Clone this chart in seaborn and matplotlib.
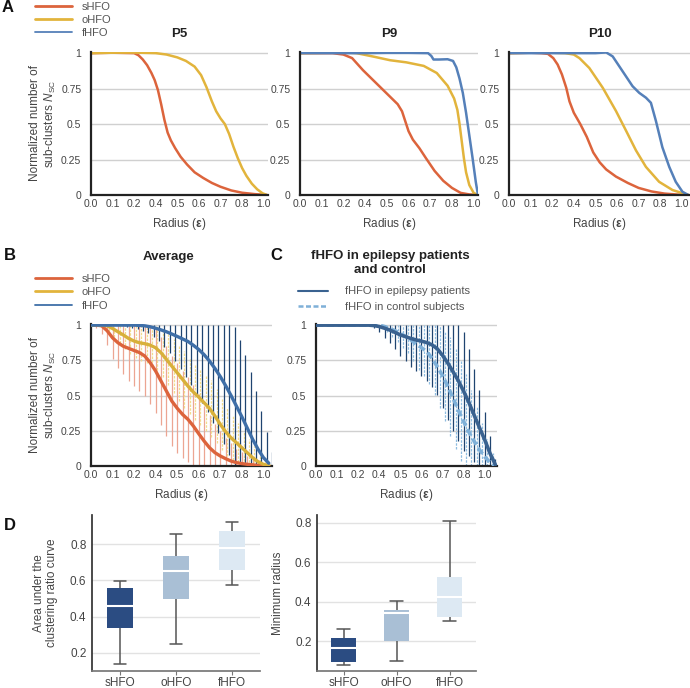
import numpy as np
import pandas as pd
import matplotlib
matplotlib.use("Agg")
import matplotlib.pyplot as plt
import seaborn as sns
from matplotlib.lines import Line2D

sns.set_theme(style="white")
plt.rcParams["font.family"] = ["Liberation Sans", "DejaVu Sans"]
plt.rcParams["mathtext.fontset"] = "custom"
plt.rcParams["mathtext.rm"] = "Liberation Sans"
plt.rcParams["mathtext.it"] = "Liberation Sans:italic"
plt.rcParams["mathtext.bf"] = "Liberation Sans:bold"

# x positions are in tick-slot units (the axis labels are not evenly spaced values)
radius_labels = ["0.0", "0.1", "0.2", "0.4", "0.5", "0.6", "0.7", "0.8", "1.0"]
ytick_vals = [0, 0.25, 0.5, 0.75, 1]
ytick_labels = ["0", "0.25", "0.5", "0.75", "1"]

# ---- Panel A: single patients ----
p5_s_x = [0, 1, 2.0, 2.2, 2.4, 2.6, 2.8, 2.95, 3.1, 3.25, 3.4, 3.55, 3.7, 3.9, 4.15, 4.45, 4.8, 5.2, 5.6, 6.0, 6.5, 7.0, 7.6, 8.15]
p5_s_y = [1, 1.003, 1.0, 0.985, 0.955, 0.915, 0.86, 0.81, 0.74, 0.64, 0.53, 0.44, 0.385, 0.33, 0.27, 0.215, 0.16, 0.12, 0.085, 0.058, 0.032, 0.016, 0.006, 0.0]
p5_o_x = [0, 1, 2, 3, 3.5, 4.0, 4.4, 4.8, 5.1, 5.35, 5.6, 5.8, 6.0, 6.2, 6.4, 6.6, 6.8, 7.0, 7.2, 7.45, 7.7, 7.95, 8.15]
p5_o_y = [1, 1.003, 1.004, 1.0, 0.99, 0.97, 0.945, 0.905, 0.845, 0.76, 0.66, 0.59, 0.54, 0.5, 0.43, 0.34, 0.26, 0.19, 0.135, 0.08, 0.04, 0.012, 0.0]

p9_s_x = [0, 1, 1.5, 2.0, 2.4, 2.9, 3.5, 4.1, 4.5, 4.7, 4.85, 5.0, 5.2, 5.5, 5.8, 6.2, 6.6, 7.0, 7.4, 7.8, 8.2]
p9_s_y = [1, 1.0, 1.0, 0.99, 0.965, 0.88, 0.79, 0.70, 0.64, 0.59, 0.52, 0.45, 0.39, 0.33, 0.26, 0.17, 0.1, 0.05, 0.015, 0.004, 0.0]
p9_o_x = [0, 1, 2, 2.6, 3.4, 4.15, 4.9, 5.7, 6.3, 6.8, 7.1, 7.25, 7.35, 7.45, 7.55, 7.65, 7.8, 8.0, 8.2]
p9_o_y = [1, 1.002, 1.005, 1.0, 0.975, 0.95, 0.935, 0.91, 0.86, 0.77, 0.68, 0.6, 0.5, 0.38, 0.26, 0.16, 0.07, 0.015, 0.0]
p9_f_x = [0, 1, 2, 3, 4, 5, 5.9, 6.05, 6.15, 6.4, 6.8, 7.05, 7.2, 7.35, 7.5, 7.65, 7.8, 7.95, 8.1, 8.2]
p9_f_y = [1, 1.0, 1.0, 1.0, 1.002, 1.002, 1.0, 0.98, 0.955, 0.955, 0.957, 0.945, 0.9, 0.82, 0.72, 0.58, 0.42, 0.26, 0.09, 0.0]

p10_s_x = [0, 1, 1.5, 1.8, 2.05, 2.25, 2.45, 2.65, 2.8, 3.0, 3.3, 3.6, 3.9, 4.2, 4.5, 4.95, 5.5, 6.0, 6.6, 7.2, 7.8, 8.3]
p10_s_y = [1, 1.003, 1.0, 0.995, 0.965, 0.92, 0.85, 0.756, 0.66, 0.58, 0.5, 0.41, 0.3, 0.23, 0.18, 0.13, 0.085, 0.05, 0.025, 0.01, 0.003, 0.0]
p10_o_x = [0, 1, 2, 2.6, 3.0, 3.26, 3.72, 4.34, 4.95, 5.42, 5.88, 6.34, 6.95, 7.57, 8.3]
p10_o_y = [1, 1.003, 1.003, 1.0, 0.99, 0.965, 0.895, 0.756, 0.593, 0.453, 0.314, 0.198, 0.093, 0.035, 0.0]
p10_f_x = [0, 1, 2, 3, 4.0, 4.5, 4.8, 5.26, 5.72, 6.03, 6.34, 6.57, 6.8, 7.1, 7.42, 7.72, 8.03, 8.3]
p10_f_y = [1, 1.0, 1.0, 1.0, 1.0, 1.005, 0.977, 0.872, 0.767, 0.72, 0.686, 0.65, 0.523, 0.337, 0.198, 0.093, 0.023, 0.0]

# ---- Panel B: average with std ----
b_x = np.arange(0, 8.26, 0.25)
b_s_mean = [1.0, 1.0, 0.995, 0.96, 0.91, 0.875, 0.85, 0.835, 0.82, 0.805, 0.78, 0.733, 0.674, 0.603, 0.532, 0.461, 0.41,
            0.366, 0.331, 0.284, 0.229, 0.177, 0.13, 0.095, 0.071, 0.052, 0.035, 0.024, 0.017, 0.012, 0.008, 0.005, 0.003, 0.0]
b_s_sd = [0, 0.02, 0.06, 0.1, 0.15, 0.18, 0.2, 0.23, 0.25, 0.27, 0.28, 0.29, 0.3, 0.31, 0.32, 0.32, 0.32,
          0.31, 0.3, 0.29, 0.28, 0.25, 0.23, 0.2, 0.18, 0.15, 0.13, 0.1, 0.08, 0.06, 0.04, 0.03, 0.02, 0.01]
b_o_mean = [1.0, 1.0, 1.0, 0.995, 0.976, 0.953, 0.93, 0.905, 0.887, 0.875, 0.868, 0.858, 0.839, 0.804, 0.757, 0.709, 0.662,
            0.615, 0.567, 0.525, 0.489, 0.449, 0.409, 0.355, 0.296, 0.243, 0.2, 0.165, 0.13, 0.095, 0.059, 0.031, 0.012, 0.003]
b_o_sd = [0, 0, 0.02, 0.04, 0.06, 0.08, 0.1, 0.11, 0.12, 0.13, 0.14, 0.15, 0.16, 0.17, 0.18, 0.19, 0.2,
          0.2, 0.2, 0.2, 0.2, 0.2, 0.2, 0.19, 0.18, 0.17, 0.16, 0.14, 0.12, 0.1, 0.08, 0.05, 0.03, 0.01]
b_f_mean = [1, 1, 1, 1, 1, 1, 1, 1, 1, 0.998, 0.995, 0.988, 0.978, 0.966, 0.953, 0.937, 0.92,
            0.902, 0.884, 0.857, 0.827, 0.79, 0.745, 0.693, 0.635, 0.57, 0.5, 0.425, 0.35, 0.27, 0.19, 0.12, 0.06, 0.02]
b_f_sd = [0, 0, 0, 0, 0, 0, 0.01, 0.02, 0.03, 0.04, 0.05, 0.07, 0.09, 0.12, 0.15, 0.19, 0.23,
          0.27, 0.31, 0.35, 0.38, 0.41, 0.44, 0.46, 0.48, 0.49, 0.49, 0.47, 0.44, 0.4, 0.34, 0.27, 0.18, 0.08]

# ---- Panel C: fHFO patients vs control ----
c_x = np.arange(0, 8.51, 0.25)
c_pat_mean = [1.0] * 11 + [0.997, 0.99, 0.978, 0.965, 0.948, 0.93, 0.918, 0.905, 0.895, 0.886, 0.876, 0.86,
                           0.832, 0.785, 0.73, 0.668, 0.605, 0.53, 0.45, 0.36, 0.272, 0.185, 0.09, 0.01]
c_pat_sd = [0.0] * 11 + [0.02, 0.04, 0.07, 0.09, 0.12, 0.15, 0.17, 0.2, 0.22, 0.25, 0.27, 0.3,
                         0.33, 0.37, 0.4, 0.42, 0.43, 0.42, 0.38, 0.33, 0.27, 0.2, 0.12, 0.04]
c_ctl_mean = [1.0] * 13 + [0.99, 0.975, 0.96, 0.94, 0.92, 0.895, 0.865, 0.84, 0.812, 0.765, 0.705,
                           0.64, 0.565, 0.48, 0.395, 0.315, 0.24, 0.175, 0.115, 0.065, 0.025, 0.0]
c_ctl_sd = [0.0] * 11 + [0.01, 0.02, 0.04, 0.06, 0.08, 0.1, 0.12, 0.15, 0.18, 0.2, 0.23, 0.26, 0.29,
                         0.32, 0.35, 0.36, 0.36, 0.34, 0.3, 0.25, 0.19, 0.13, 0.07, 0.03]

# ---- Panel D: box statistics (whisker low, Q1, median, Q3, whisker high) ----
groups = ["sHFO", "oHFO", "fHFO"]
auc_stats = {"sHFO": [0.138, 0.338, 0.458, 0.558, 0.598],
             "oHFO": [0.251, 0.495, 0.649, 0.733, 0.856],
             "fHFO": [0.575, 0.657, 0.777, 0.871, 0.922]}
minr_stats = {"sHFO": [0.082, 0.095, 0.165, 0.217, 0.264],
              "oHFO": [0.103, 0.2, 0.345, 0.358, 0.404],
              "fHFO": [0.305, 0.325, 0.427, 0.525, 0.808]}

RED = "#dc643c"
YEL = "#e2b43c"
BLUE = "#5580b9"
BLUE_B = "#3f6fa8"
NAVY = "#1f4470"
BOX_COLS = ["#2b4c82", "#a9bfd5", "#dde9f3"]

fig = plt.figure(figsize=(6.9, 6.88), dpi=100)
H, W = 688.0, 690.0


def axes_px(x0, x1, y0, y1):
    return fig.add_axes([x0 / W, 1 - y1 / H, (x1 - x0) / W, (y1 - y0) / H])


def style_curve(ax, xmax):
    ax.set_xlim(0, xmax)
    ax.set_ylim(0, 1.008)
    ax.set_xticks(range(9))
    ax.set_xticklabels(radius_labels)
    ax.set_yticks(ytick_vals)
    ax.set_yticklabels(ytick_labels)
    ax.yaxis.grid(True, color="#d0d0d0", lw=1)
    ax.xaxis.grid(False)
    ax.set_axisbelow(True)
    for s in ["top", "right"]:
        ax.spines[s].set_visible(False)
    for s in ["left", "bottom"]:
        ax.spines[s].set_color("#222222")
        ax.spines[s].set_linewidth(1.6)
    ax.tick_params(length=0, labelsize=7.5, colors="#444444")
    ax.tick_params(axis="y", pad=7)
    ax.tick_params(axis="x", pad=3)
    ax.set_xlabel(r"Radius ($\mathbf{\epsilon}$)", fontsize=8.5, color="#444444", labelpad=5)


ylab_curve = "Normalized number of\nsub-clusters $\\mathit{N}_{\\mathrm{SC}}$"

# Panel A
axA = [axes_px(91, 268, 52, 195), axes_px(300, 478, 52, 195), axes_px(509, 690, 52, 195)]
A_series = [
    ("P5", [(p5_s_x, p5_s_y, RED, "sHFO"), (p5_o_x, p5_o_y, YEL, "oHFO")]),
    ("P9", [(p9_s_x, p9_s_y, RED, "sHFO"), (p9_o_x, p9_o_y, YEL, "oHFO"), (p9_f_x, p9_f_y, BLUE, "fHFO")]),
    ("P10", [(p10_s_x, p10_s_y, RED, "sHFO"), (p10_o_x, p10_o_y, YEL, "oHFO"), (p10_f_x, p10_f_y, BLUE, "fHFO")]),
]
for ax, (title, series), xmax in zip(axA, A_series, [8.2, 8.2, 8.38]):
    for xs, ys, col, lab in series:
        sns.lineplot(x=xs, y=ys, ax=ax, color=col, lw=1.8, sort=False, estimator=None)
    style_curve(ax, xmax)
    ax.set_title(title, fontsize=9.5, fontweight="bold", pad=11, color="#222222")
axA[0].set_ylabel(ylab_curve, fontsize=8.5, color="#444444")
axA[0].yaxis.set_label_coords(-0.185, 0.5)

legend_kw = dict(loc="upper left", frameon=False, fontsize=8, borderpad=0, borderaxespad=0,
                 labelcolor="#555555")
handlesA = [Line2D([], [], color=RED, lw=2), Line2D([], [], color=YEL, lw=2), Line2D([], [], color=BLUE, lw=1.3)]
fig.legend(handlesA, ["sHFO", "oHFO", "fHFO"], bbox_to_anchor=(35 / W, 1 - 1.5 / H),
           handlelength=3.3, handletextpad=0.9, labelspacing=0.3, **legend_kw)

# Panel B
axB = axes_px(91, 272, 324, 466)
for off, mean, sd, col, ls in [(0.0, b_s_mean, b_s_sd, "#eca592", "-"),
                               (0.08, b_o_mean, b_o_sd, "#f2dc8c", (0, (2, 1))),
                               (0.16, b_f_mean, b_f_sd, NAVY, "-")]:
    m = np.array(mean)
    s = np.array(sd)
    lo = np.clip(m - s, 0, 1)
    hi = np.clip(m + s, 0, 1)
    axB.vlines(b_x + off, lo, hi, colors=col, lw=0.9, linestyles=ls, zorder=2)
for mean, col in [(b_s_mean, RED), (b_o_mean, "#d8b03a"), (b_f_mean, BLUE_B)]:
    sns.lineplot(x=b_x, y=mean, ax=axB, color=col, lw=2.4, sort=False, estimator=None, zorder=3)
style_curve(axB, 8.4)
axB.set_ylabel(ylab_curve, fontsize=8.5, color="#444444")
axB.yaxis.set_label_coords(-0.18, 0.5)
axB.text(0.43, 1.475, "Average", transform=axB.transAxes, ha="center", va="center",
         fontsize=9.5, fontweight="bold", color="#222222")
handlesB = [Line2D([], [], color=RED, lw=2), Line2D([], [], color=YEL, lw=2), Line2D([], [], color=BLUE_B, lw=1.3)]
fig.legend(handlesB, ["sHFO", "oHFO", "fHFO"], bbox_to_anchor=(35 / W, 1 - 274 / H),
           handlelength=3.3, handletextpad=0.9, labelspacing=0.3, **legend_kw)

# Panel C
axC = axes_px(316, 497, 324, 466)
for off, mean, sd, col, ls in [(0.0, c_pat_mean, c_pat_sd, NAVY, "-"),
                               (0.12, c_ctl_mean, c_ctl_sd, "#8fbde0", (0, (2, 1)))]:
    m = np.array(mean)
    s = np.array(sd)
    lo = np.clip(m - s, 0, 1)
    hi = np.clip(m + s, 0, 1)
    axC.vlines(c_x + off, lo, hi, colors=col, lw=0.9, linestyles=ls, zorder=2)
sns.lineplot(x=c_x, y=c_ctl_mean, ax=axC, color="#7fb0d8", lw=2.6, sort=False, estimator=None,
             linestyle=(0, (2, 1)), zorder=3)
sns.lineplot(x=c_x, y=c_pat_mean, ax=axC, color="#3a6290", lw=2.6, sort=False, estimator=None, zorder=4)
style_curve(axC, 8.58)
axC.text(0.41, 1.43, "fHFO in epilepsy patients\nand control", transform=axC.transAxes, ha="center",
         va="center", fontsize=9.5, fontweight="bold", color="#222222", linespacing=1.3)
handlesC = [Line2D([], [], color="#3a6290", lw=1.5),
            Line2D([], [], color="#7fb0d8", lw=1.8, linestyle=(0, (2, 1)))]
fig.legend(handlesC, ["fHFO in epilepsy patients", "fHFO in control subjects"],
           bbox_to_anchor=(298 / W, 1 - 286.5 / H), handlelength=2.7, handletextpad=1.5,
           labelspacing=0.5, **legend_kw)

# Panel D
def box_panel(ax, stats, ylim, ylabel):
    df = pd.DataFrame([(g, v) for g in groups for v in stats[g]], columns=["group", "value"])
    sns.boxplot(data=df, x="group", y="value", hue="group", order=groups, hue_order=groups,
                palette=BOX_COLS, saturation=1, whis=(0, 100), width=0.46, showfliers=False,
                linecolor="#555555", linewidth=1.1, legend=False, ax=ax,
                boxprops=dict(edgecolor="none"),
                medianprops=dict(color="white", lw=1.5))
    ax.set_ylim(*ylim)
    ax.set_xlim(-0.5, 2.5)
    ax.yaxis.grid(True, color="#e2e2e2", lw=1)
    ax.set_axisbelow(True)
    for s in ["top", "right"]:
        ax.spines[s].set_visible(False)
    ax.spines["left"].set_color("#333333")
    ax.spines["bottom"].set_color("#777777")
    ax.tick_params(axis="y", length=0, labelsize=8.5, colors="#444444", pad=4)
    ax.tick_params(axis="x", length=3, width=0.8, color="#777777", labelsize=8.5, colors="#444444",
                   pad=1.5, bottom=True)
    ax.set_xlabel("")
    ax.set_ylabel(ylabel, fontsize=8.5, color="#444444", labelpad=8)


axD1 = axes_px(92, 260, 515, 671)
box_panel(axD1, auc_stats, (0.1, 0.96), "Area under the\nclustering ratio curve")
axD1.set_yticks([0.2, 0.4, 0.6, 0.8])
axD1.yaxis.set_label_coords(-0.2, 0.5)
axD2 = axes_px(317, 476, 515, 671)
box_panel(axD2, minr_stats, (0.05, 0.84), "Minimum radius")
axD2.set_yticks([0.2, 0.4, 0.6, 0.8])

for lab, x, y in [("A", 2, 8), ("B", 4, 255), ("C", 270, 255), ("D", 4, 525)]:
    fig.text(x / W, 1 - y / H, lab, fontsize=12, fontweight="bold", va="center", ha="left", color="#111111")

fig.savefig("out.png", dpi=100)
